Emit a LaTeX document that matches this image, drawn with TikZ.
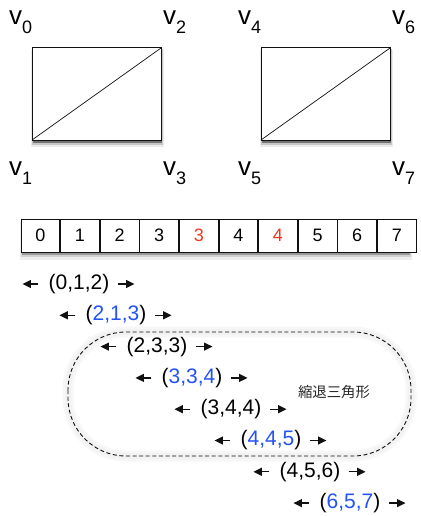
\documentclass[tikz,border=0pt]{standalone}
\usepackage{fontspec}
\setmainfont{Liberation Sans}
\newfontfamily\jfont{Noto Sans CJK JP}
\usetikzlibrary{arrows.meta,positioning}
\definecolor{rojo}{HTML}{F2361D}
\definecolor{azul}{HTML}{2352F5}
\definecolor{tinta}{HTML}{111111}
\newcommand{\vlab}[1]{{\fontsize{26}{26}\selectfont v}\raisebox{-9pt}{\fontsize{18}{18}\selectfont #1}}
\newcommand{\enazul}[1]{\textcolor{azul}{#1}}
\tikzset{
  cara/.style={draw=tinta,fill=white,line width=1pt},
  sombra/.style={fill=black!#1,draw=none},
  diag/.style={draw=tinta,line width=0.7pt},
  etiq/.style={anchor=base west,inner sep=0pt},
  celda/.style={draw=tinta,fill=white,line width=0.8pt,minimum width=38.8pt,minimum height=33pt,inner sep=0pt,font=\fontsize{18}{18}\selectfont},
  tripla/.style={inner sep=0pt,font=\fontsize{21}{21}\selectfont},
  flecha/.style={draw=tinta,line width=1.3pt,-{Triangle[length=8.5pt,width=8pt]}},
  zona/.style={draw=tinta,dash pattern=on 4pt off 2.6pt,line width=0.9pt,rounded corners=58pt},
  halo/.style={draw=black!#1,rounded corners=58pt},
  rotulo/.style={font=\jfont\fontsize{14.4}{14.4}\selectfont,text=tinta!90},
}
\begin{document}
\begin{tikzpicture}[x=1pt,y=-1pt]
\useasboundingbox (0,0) rectangle (420,516);
% esquinas de los dos cuadrilateros
\coordinate (c0) at (32,48);
\coordinate (c1) at (32,140);
\coordinate (c2) at (161,48);
\coordinate (c3) at (161,140);
\coordinate (c4) at (261,48);
\coordinate (c5) at (261,140);
\coordinate (c6) at (390,48);
\coordinate (c7) at (390,140);
% sombras
\fill[sombra=8] ([shift={(-1.5,2)}]c0) rectangle ([shift={(2.5,7)}]c3);
\fill[sombra=22] ([shift={(-0.5,1.5)}]c0) rectangle ([shift={(1.5,5)}]c3);
\fill[sombra=55] ([shift={(0.5,1)}]c0) rectangle ([shift={(0.8,3)}]c3);
\fill[sombra=8] ([shift={(-1.5,2)}]c4) rectangle ([shift={(2.5,7)}]c7);
\fill[sombra=22] ([shift={(-0.5,1.5)}]c4) rectangle ([shift={(1.5,5)}]c7);
\fill[sombra=55] ([shift={(0.5,1)}]c4) rectangle ([shift={(0.8,3)}]c7);
\draw[cara] (c1) rectangle (c2);
\draw[diag] (c1) -- (c2);
\draw[cara] (c5) rectangle (c6);
\draw[diag] (c5) -- (c6);
\node[etiq] (v0) at (9,25) {\vlab{0}};
\node[etiq] (v1) at (9,175) {\vlab{1}};
\node[etiq] (v2) at (163,25) {\vlab{2}};
\node[etiq] (v3) at (163,175) {\vlab{3}};
\node[etiq] (v4) at (238,25) {\vlab{4}};
\node[etiq] (v5) at (238,175) {\vlab{5}};
\node[etiq] (v6) at (392,25) {\vlab{6}};
\node[etiq] (v7) at (392,175) {\vlab{7}};
% arreglo de indices
\fill[sombra=7] (20,222) rectangle (412,260);
\fill[sombra=18] (21,221) rectangle (411,257);
\fill[sombra=40] (21.5,220) rectangle (410,255);
\node[celda] (a0) at (40.4,235.5) {0};
\node[celda,right=0pt of a0] (a1) {1};
\node[celda,right=0pt of a1] (a2) {2};
\node[celda,right=0pt of a2] (a3) {3};
\node[celda,right=0pt of a3,text=rojo] (a4) {3};
\node[celda,right=0pt of a4] (a5) {4};
\node[celda,right=0pt of a5,text=rojo] (a6) {4};
\node[celda,right=0pt of a6] (a7) {5};
\node[celda,right=0pt of a7] (a8) {6};
\node[celda,right=0pt of a8] (a9) {7};
% zona de triangulos degenerados
\draw[halo=3,line width=11pt] (68,332) rectangle (411,456);
\draw[halo=5,line width=6pt] (68,332) rectangle (411,456);
\draw[zona] (68,332) rectangle (411,456);
\node[rotulo] (deg) at (334,392) {縮退三角形};
% triplas
\node[tripla] (t0) at (79,284) {(0,1,2)};
\node[tripla] (t1) at (116,315.3) {(\enazul{2,1,3})};
\node[tripla] (t2) at (157,346.6) {(2,3,3)};
\node[tripla] (t3) at (192,377.9) {(\enazul{3,3,4})};
\node[tripla] (t4) at (231,409.2) {(3,4,4)};
\node[tripla] (t5) at (271,440.5) {(\enazul{4,4,5})};
\node[tripla] (t6) at (310,471.8) {(4,5,6)};
\node[tripla] (t7) at (350,503.1) {(\enazul{6,5,7})};
\draw[flecha] ([xshift=-10pt]t0.west) -- ([xshift=-26pt]t0.west);
\draw[flecha] ([xshift=8pt]t0.east) -- ([xshift=25pt]t0.east);
\draw[flecha] ([xshift=-10pt]t1.west) -- ([xshift=-26pt]t1.west);
\draw[flecha] ([xshift=8pt]t1.east) -- ([xshift=25pt]t1.east);
\draw[flecha] ([xshift=-10pt]t2.west) -- ([xshift=-26pt]t2.west);
\draw[flecha] ([xshift=8pt]t2.east) -- ([xshift=25pt]t2.east);
\draw[flecha] ([xshift=-10pt]t3.west) -- ([xshift=-26pt]t3.west);
\draw[flecha] ([xshift=8pt]t3.east) -- ([xshift=25pt]t3.east);
\draw[flecha] ([xshift=-10pt]t4.west) -- ([xshift=-26pt]t4.west);
\draw[flecha] ([xshift=8pt]t4.east) -- ([xshift=25pt]t4.east);
\draw[flecha] ([xshift=-10pt]t5.west) -- ([xshift=-26pt]t5.west);
\draw[flecha] ([xshift=8pt]t5.east) -- ([xshift=25pt]t5.east);
\draw[flecha] ([xshift=-10pt]t6.west) -- ([xshift=-26pt]t6.west);
\draw[flecha] ([xshift=8pt]t6.east) -- ([xshift=25pt]t6.east);
\draw[flecha] ([xshift=-10pt]t7.west) -- ([xshift=-26pt]t7.west);
\draw[flecha] ([xshift=8pt]t7.east) -- ([xshift=25pt]t7.east);
\end{tikzpicture}
\end{document}
